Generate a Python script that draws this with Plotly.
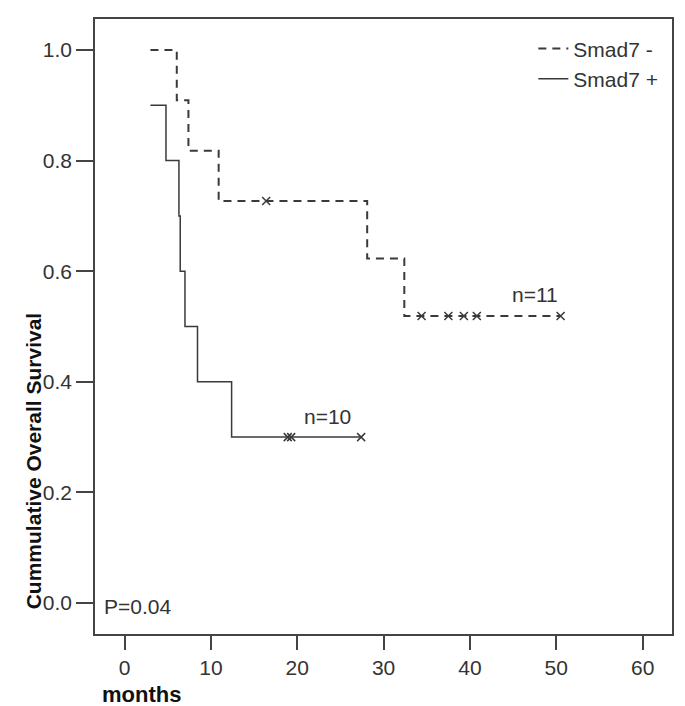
import plotly.graph_objects as go

# Smad7 - (n=11): step times and survival
neg_times = [3.0, 6.05, 7.4, 10.9, 28.1, 32.4, 50.5]
neg_surv = [1.0, 0.909, 0.818, 0.727, 0.623, 0.519, 0.519]
neg_cens_times = [16.4, 34.4, 37.5, 39.3, 40.8, 50.5]
neg_cens_surv = [0.727, 0.519, 0.519, 0.519, 0.519, 0.519]

# Smad7 + (n=10)
pos_times = [3.0, 4.8, 6.3, 6.45, 7.0, 8.45, 12.4, 27.4]
pos_surv = [0.9, 0.8, 0.7, 0.6, 0.5, 0.4, 0.3, 0.3]
pos_cens_times = [18.9, 19.3, 27.4]
pos_cens_surv = [0.3, 0.3, 0.3]

x_ticks = [0, 10, 20, 30, 40, 50, 60]
y_ticks = [0.0, 0.2, 0.4, 0.6, 0.8, 1.0]

FONT = "Arial, Liberation Sans, sans-serif"
LINE = "#3a3a3a"

fig = go.Figure()
fig.add_trace(go.Scatter(x=neg_times, y=neg_surv, mode="lines", line_shape="hv",
                         name="Smad7 -", line=dict(color=LINE, width=2, dash="8px,6px")))
fig.add_trace(go.Scatter(x=pos_times, y=pos_surv, mode="lines", line_shape="hv",
                         name="Smad7 +", line=dict(color=LINE, width=1.5)))
fig.add_trace(go.Scatter(x=neg_cens_times, y=neg_cens_surv, mode="markers", showlegend=False,
                         marker=dict(symbol="x-thin-open", size=8, color=LINE,
                                     line=dict(color=LINE, width=1.5))))
fig.add_trace(go.Scatter(x=pos_cens_times, y=pos_cens_surv, mode="markers", showlegend=False,
                         marker=dict(symbol="x-thin-open", size=8, color=LINE,
                                     line=dict(color=LINE, width=1.5))))

fig.add_annotation(x=47.5, y=0.558, text="n=11", showarrow=False,
                   font=dict(family=FONT, size=21, color="#333"))
fig.add_annotation(x=23.5, y=0.338, text="n=10", showarrow=False,
                   font=dict(family=FONT, size=21, color="#333"))
fig.add_annotation(x=-2.6, y=-0.007, text="P=0.04", showarrow=False, xanchor="left",
                   font=dict(family=FONT, size=21, color="#333"))
fig.add_annotation(x=0.0087, xref="paper", y=-0.099, yref="paper", yanchor="middle",
                   xanchor="left", text="months", showarrow=False,
                   font=dict(family=FONT, size=22, color="#111", weight="bold"))
fig.add_annotation(x=-0.1075, xref="paper", xanchor="center", y=-0.015, yanchor="bottom",
                   textangle=-90, text="Cummulative Overall Survival", showarrow=False,
                   font=dict(family=FONT, size=21, color="#111", weight="bold"))

fig.update_layout(
    width=677, height=698,
    margin=dict(l=87, r=13, t=9, b=72),
    paper_bgcolor="white", plot_bgcolor="white",
    font=dict(family=FONT, size=21, color="#333"),
    showlegend=True,
    legend=dict(x=0.985, y=0.985, xanchor="right", yanchor="top", bgcolor="rgba(0,0,0,0)",
                font=dict(size=21, color="#333"), itemwidth=30),
    xaxis=dict(range=[-3.42, 63.4], tickvals=x_ticks, ticks="outside", ticklen=14, tickwidth=2,
               tickcolor="#444", showline=True, linecolor="#444", linewidth=1.5, mirror=True,
               showgrid=False, zeroline=False, tickfont=dict(size=21, color="#333")),
    yaxis=dict(range=[-0.056, 1.056], tickvals=y_ticks, tickformat=".1f", ticks="outside",
               ticklen=17, tickwidth=2, tickcolor="#444", showline=True, linecolor="#444",
               linewidth=1.5, mirror=True, showgrid=False, zeroline=False,
               tickfont=dict(size=21, color="#333")),
)

fig.write_html("out.html")
